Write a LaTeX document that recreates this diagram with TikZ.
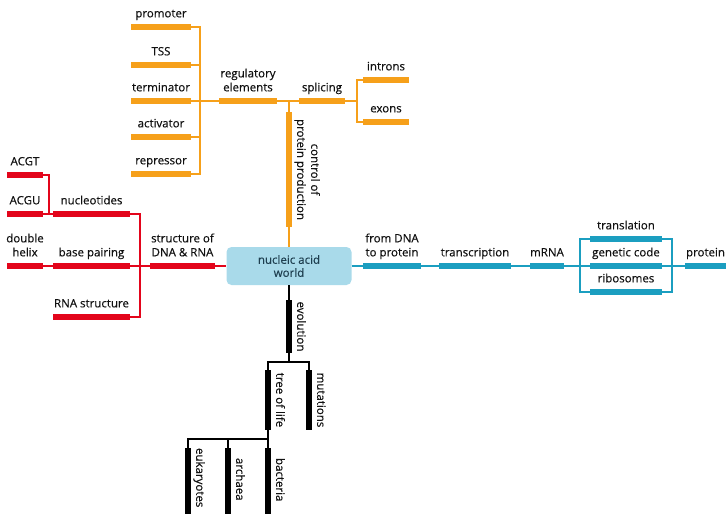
\documentclass[tikz,border=0pt]{standalone}
\usepackage{fontspec}
\setmainfont{Open Sans}
\newfontfamily\labfont[FakeBold=0.5]{Open Sans}
\definecolor{cor}{HTML}{F6A01A}
\definecolor{cred}{HTML}{E3051B}
\definecolor{cblu}{HTML}{1B9EC0}
\definecolor{cbox}{HTML}{A9DAEA}
\definecolor{ctxt}{HTML}{111111}
\definecolor{cboxt}{HTML}{1F3F50}
\begin{document}
\begin{tikzpicture}[x=1pt,y=-1pt,label distance=6.5pt,
  lab/.style={font=\labfont\fontsize{11.5}{14}\selectfont, inner sep=0pt, text depth=0pt, align=center, text=ctxt},
  rlab/.style={lab, rotate=-90},
  hbar/.style={rectangle, draw=none, inner sep=0pt, minimum height=5.5pt, fill=#1},
  vbar/.style={rectangle, draw=none, inner sep=0pt, minimum width=5.5pt, fill=#1},
  link/.style={line width=1.3pt, draw=#1},
  worldbox/.style={rectangle, rounded corners=5pt, fill=cbox, minimum width=125pt, minimum height=38pt, inner sep=0pt, align=center, text=cboxt, font=\labfont\fontsize{11.5}{13}\selectfont}]
\useasboundingbox (0,0) rectangle (726,514);

% centre
\node[worldbox] (world) at (289,266) {nucleic acid\\world};

% orange
\node[hbar=cor, minimum width=60pt, label={[lab]above:promoter}] (promoter) at (161,27) {};
\node[hbar=cor, minimum width=60pt, label={[lab]above:TSS}] (tss) at (161,65) {};
\node[hbar=cor, minimum width=60pt, label={[lab]above:terminator}] (terminator) at (161,101) {};
\node[hbar=cor, minimum width=60pt, label={[lab]above:activator}] (activator) at (161,137) {};
\node[hbar=cor, minimum width=60pt, label={[lab]above:repressor}] (repressor) at (161,174) {};
\node[hbar=cor, minimum width=58pt, label={[lab]above:{regulatory\\elements}}] (regulatory) at (248,101) {};
\node[hbar=cor, minimum width=46pt, label={[lab]above:splicing}] (splicing) at (322,101) {};
\node[hbar=cor, minimum width=46pt, label={[lab]above:introns}] (introns) at (386,80) {};
\node[hbar=cor, minimum width=46pt, label={[lab]above:exons}] (exons) at (386,122) {};
\node[vbar=cor, minimum height=115pt] (control) at (289,169.5) {};
\node[rlab, anchor=south] (lcontrol) at ([xshift=5pt]control.east) {control of\\protein production};

\coordinate (oj) at (200,101);
\draw[link=cor] (promoter.east) -| (oj);
\draw[link=cor] (repressor.east) -| (oj);
\draw[link=cor] (tss.east) -- (tss.east -| oj);
\draw[link=cor] (activator.east) -- (activator.east -| oj);
\draw[link=cor] (terminator.east) -- (regulatory.west);
\coordinate (cj) at (289,101);
\draw[link=cor] (regulatory.east) -- (splicing.west);
\draw[link=cor] (control.north) -- (cj);
\draw[link=cor] (control.south) -- (world.north);
\coordinate (sj) at (357,101);
\draw[link=cor] (splicing.east) -- (sj);
\draw[link=cor] (introns.west) -| (sj);
\draw[link=cor] (exons.west) -| (sj);

% red
\node[hbar=cred, minimum width=36pt, label={[lab]above:ACGT}] (acgt) at (25,175) {};
\node[hbar=cred, minimum width=36pt, label={[lab]above:ACGU}] (acgu) at (25,214) {};
\node[hbar=cred, minimum width=36pt, label={[lab]above:{double\\helix}}] (dhelix) at (25,266) {};
\node[hbar=cred, minimum width=77pt, label={[lab]above:nucleotides}] (nucleotides) at (91.5,214) {};
\node[hbar=cred, minimum width=77pt, label={[lab]above:base pairing}] (basepair) at (91.5,266) {};
\node[hbar=cred, minimum width=77pt, label={[lab]above:RNA structure}] (rnastruct) at (91.5,317) {};
\node[hbar=cred, minimum width=65pt, label={[lab]above:{structure of\\DNA \& RNA}}] (structure) at (182.5,266) {};

\coordinate (aj) at (49,214);
\draw[link=cred] (acgt.east) -| (aj);
\draw[link=cred] (acgu.east) -- (nucleotides.west);
\draw[link=cred] (dhelix.east) -- (basepair.west);
\coordinate (rj) at (140,266);
\draw[link=cred] (nucleotides.east) -| (rj);
\draw[link=cred] (rnastruct.east) -| (rj);
\draw[link=cred] (basepair.east) -- (structure.west);
\draw[link=cred] (structure.east) -- (world.west);

% blue
\node[hbar=cblu, minimum width=58pt, label={[lab]above:{from DNA\\to protein}}] (fromdna) at (392,266) {};
\node[hbar=cblu, minimum width=72pt, label={[lab]above:transcription}] (transcription) at (475,266) {};
\node[hbar=cblu, minimum width=34pt, label={[lab]above:mRNA}] (mrna) at (547,266) {};
\node[hbar=cblu, minimum width=72pt, label={[lab]above:translation}] (translation) at (626,239) {};
\node[hbar=cblu, minimum width=72pt, label={[lab]above:genetic code}] (genetic) at (626,266) {};
\node[hbar=cblu, minimum width=72pt, label={[lab]above:ribosomes}] (ribosomes) at (626,292) {};
\node[hbar=cblu, minimum width=41pt, label={[lab]above:protein}] (protein) at (705.5,266) {};

\draw[link=cblu] (world.east) -- (fromdna.west);
\draw[link=cblu] (fromdna.east) -- (transcription.west);
\draw[link=cblu] (transcription.east) -- (mrna.west);
\draw[link=cblu] (mrna.east) -- (genetic.west);
\coordinate (bl) at (580,266);
\coordinate (br) at (672,266);
\draw[link=cblu] (translation.west) -| (bl);
\draw[link=cblu] (ribosomes.west) -| (bl);
\draw[link=cblu] (translation.east) -| (br);
\draw[link=cblu] (ribosomes.east) -| (br);
\draw[link=cblu] (genetic.east) -- (protein.west);

% black
\node[vbar=black, minimum height=53pt] (evolution) at (289,326.5) {};
\node[vbar=black, minimum height=60pt] (tree) at (268,400) {};
\node[vbar=black, minimum height=60pt] (mutations) at (309,400) {};
\node[vbar=black, minimum height=82pt] (eukaryotes) at (188,489) {};
\node[vbar=black, minimum height=82pt] (archaea) at (228,489) {};
\node[vbar=black, minimum height=82pt] (bacteria) at (268,489) {};
\node[rlab, anchor=south] (levol) at ([xshift=5pt]evolution.east) {evolution};
\node[rlab, anchor=south] (ltree) at ([xshift=5pt]tree.east) {tree of life};
\node[rlab, anchor=south] (lmut) at ([xshift=5pt]mutations.east) {mutations};
\node[rlab, anchor=south west] (leuk) at ([xshift=5pt]eukaryotes.north east) {eukaryotes};
\node[rlab, anchor=south west] (larch) at ([xshift=5pt,yshift=-10pt]archaea.north east) {archaea};
\node[rlab, anchor=south west] (lbact) at ([xshift=5pt,yshift=-10pt]bacteria.north east) {bacteria};

\draw[link=black] (world.south) -- (evolution.north);
\coordinate (ej) at (289,362);
\draw[link=black] (evolution.south) -- (ej);
\draw[link=black] (tree.north) |- (ej);
\draw[link=black] (mutations.north) |- (ej);
\coordinate (tj) at (268,439);
\draw[link=black] (tree.south) -- (tj);
\draw[link=black] (eukaryotes.north) |- (tj);
\draw[link=black] (archaea.north) |- (tj);
\draw[link=black] (bacteria.north) -- (tj);
\end{tikzpicture}
\end{document}
